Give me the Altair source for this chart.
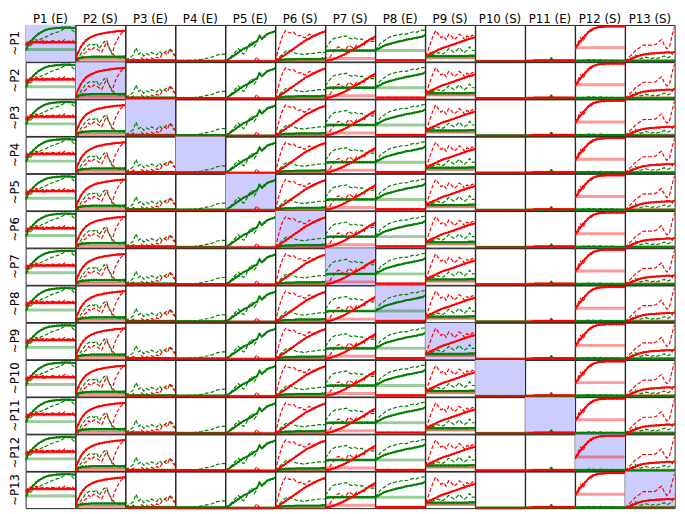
import altair as alt
import pandas as pd

# ---- labels ----
col_labels = ["P1 (E)", "P2 (S)", "P3 (E)", "P4 (E)", "P5 (E)", "P6 (S)", "P7 (S)",
              "P8 (E)", "P9 (S)", "P10 (S)", "P11 (E)", "P12 (S)", "P13 (S)"]
row_labels = ["~P1", "~P2", "~P3", "~P4", "~P5", "~P6", "~P7", "~P8", "~P9",
              "~P10", "~P11", "~P12", "~P13"]
steps = list(range(20))

# ---- per-column series (green solid, green dashed, red solid, red dashed) ----
gs = {
    "P1 (E)": [0.33,0.45,0.55,0.63,0.70,0.76,0.80,0.84,0.87,0.89,0.90,0.91,0.92,0.92,0.93,0.93,0.93,0.93,0.92,0.92],
    "P2 (S)": [0.05,0.08,0.10,0.11,0.12,0.12,0.13,0.13,0.13,0.13,0.13,0.13,0.13,0.13,0.13,0.13,0.13,0.13,0.13,0.14],
    "P3 (E)": [0.02,0.03,0.03,0.03,0.03,0.03,0.03,0.03,0.03,0.03,0.03,0.03,0.03,0.03,0.03,0.03,0.03,0.03,0.03,0.03],
    "P4 (E)": [0.02,0.02,0.02,0.02,0.02,0.02,0.02,0.02,0.02,0.02,0.02,0.02,0.02,0.02,0.02,0.02,0.02,0.02,0.02,0.02],
    "P5 (E)": [0.00,0.05,0.10,0.15,0.20,0.25,0.30,0.35,0.38,0.42,0.46,0.52,0.55,0.68,0.62,0.68,0.75,0.78,0.80,0.83],
    "P6 (S)": [0.00,0.02,0.04,0.05,0.06,0.06,0.06,0.06,0.07,0.07,0.07,0.07,0.07,0.07,0.07,0.07,0.07,0.07,0.08,0.08],
    "P7 (S)": [0.28,0.29,0.30,0.30,0.30,0.30,0.30,0.30,0.30,0.30,0.30,0.30,0.30,0.30,0.30,0.30,0.30,0.30,0.30,0.30],
    "P8 (E)": [0.30,0.34,0.38,0.42,0.45,0.47,0.49,0.51,0.53,0.55,0.56,0.58,0.60,0.61,0.62,0.64,0.65,0.67,0.68,0.72],
    "P9 (S)": [0.14,0.15,0.15,0.15,0.15,0.15,0.15,0.15,0.15,0.15,0.15,0.15,0.15,0.15,0.15,0.15,0.15,0.16,0.16,0.16],
    "P10 (S)": [0.01,0.01,0.01,0.01,0.01,0.01,0.01,0.01,0.01,0.01,0.01,0.01,0.01,0.01,0.01,0.01,0.01,0.01,0.01,0.01],
    "P11 (E)": [0.00,0.00,0.00,0.00,0.00,0.00,0.00,0.00,0.00,0.00,0.08,0.00,0.00,0.00,0.00,0.00,0.00,0.00,0.00,0.00],
    "P12 (S)": [0.02,0.02,0.02,0.02,0.02,0.02,0.02,0.02,0.02,0.02,0.02,0.02,0.02,0.02,0.02,0.02,0.02,0.02,0.02,0.02],
    "P13 (S)": [0.01,0.01,0.01,0.01,0.01,0.01,0.01,0.01,0.01,0.01,0.01,0.01,0.01,0.01,0.01,0.01,0.01,0.01,0.01,0.02],
}
gd = {
    "P1 (E)": [0.30,0.38,0.45,0.50,0.55,0.58,0.62,0.65,0.68,0.72,0.75,0.78,0.80,0.82,0.86,0.90,0.93,0.90,0.85,0.78],
    "P2 (S)": [0.05,0.10,0.20,0.30,0.40,0.45,0.48,0.45,0.50,0.35,0.45,0.55,0.50,0.35,0.25,0.15,0.12,0.10,0.10,0.10],
    "P3 (E)": [0.03,0.08,0.12,0.18,0.38,0.20,0.25,0.15,0.22,0.18,0.25,0.20,0.18,0.28,0.20,0.25,0.30,0.32,0.22,0.15],
    "P4 (E)": [0.01,0.02,0.02,0.02,0.03,0.03,0.03,0.03,0.04,0.05,0.06,0.08,0.09,0.10,0.12,0.15,0.18,0.19,0.20,0.20],
    "P5 (E)": [0.00,0.05,0.12,0.20,0.28,0.35,0.25,0.20,0.30,0.45,0.55,0.40,0.50,0.72,0.65,0.70,0.75,0.78,0.80,0.82],
    "P6 (S)": [0.00,0.08,0.15,0.22,0.28,0.30,0.28,0.25,0.22,0.20,0.20,0.18,0.20,0.22,0.22,0.23,0.24,0.25,0.25,0.25],
    "P7 (S)": [0.35,0.45,0.55,0.62,0.65,0.65,0.68,0.68,0.70,0.65,0.62,0.65,0.62,0.60,0.62,0.55,0.55,0.55,0.55,0.55],
    "P8 (E)": [0.30,0.40,0.50,0.55,0.60,0.65,0.68,0.70,0.72,0.73,0.75,0.76,0.75,0.78,0.80,0.82,0.80,0.85,0.85,0.86],
    "P9 (S)": [0.15,0.16,0.18,0.20,0.22,0.25,0.20,0.22,0.28,0.35,0.30,0.25,0.30,0.38,0.30,0.25,0.30,0.40,0.30,0.30],
    "P10 (S)": [0.01,0.01,0.01,0.01,0.01,0.01,0.01,0.01,0.01,0.01,0.01,0.01,0.01,0.01,0.01,0.01,0.01,0.01,0.01,0.01],
    "P11 (E)": [0.00,0.00,0.00,0.00,0.00,0.00,0.00,0.00,0.00,0.01,0.04,0.01,0.00,0.00,0.00,0.00,0.00,0.00,0.00,0.00],
    "P12 (S)": [0.02,0.03,0.02,0.04,0.03,0.05,0.04,0.05,0.03,0.04,0.05,0.03,0.04,0.03,0.04,0.03,0.03,0.02,0.02,0.02],
    "P13 (S)": [0.00,0.03,0.08,0.12,0.18,0.10,0.08,0.10,0.12,0.10,0.08,0.10,0.08,0.10,0.12,0.15,0.10,0.12,0.18,0.35],
}
rs = {
    "P1 (E)": [0.45,0.50,0.52,0.53,0.53,0.53,0.53,0.52,0.53,0.53,0.53,0.53,0.53,0.53,0.53,0.53,0.53,0.53,0.53,0.52],
    "P2 (S)": [0.08,0.25,0.40,0.50,0.58,0.63,0.67,0.70,0.73,0.75,0.76,0.78,0.79,0.80,0.81,0.82,0.83,0.83,0.84,0.84],
    "P3 (E)": [0.01,0.01,0.01,0.01,0.01,0.01,0.01,0.01,0.01,0.01,0.01,0.01,0.01,0.01,0.01,0.01,0.01,0.01,0.01,0.01],
    "P4 (E)": [0.00,0.00,0.00,0.00,0.00,0.00,0.00,0.00,0.00,0.00,0.00,0.00,0.00,0.00,0.00,0.00,0.00,0.00,0.00,0.00],
    "P5 (E)": [0.00,0.00,0.00,0.00,0.00,0.00,0.00,0.00,0.00,0.00,0.00,0.00,0.00,0.00,0.00,0.00,0.00,0.00,0.00,0.00],
    "P6 (S)": [0.00,0.05,0.10,0.15,0.20,0.25,0.30,0.35,0.40,0.45,0.50,0.55,0.60,0.63,0.67,0.70,0.74,0.77,0.80,0.82],
    "P7 (S)": [0.00,0.02,0.04,0.06,0.09,0.12,0.15,0.18,0.22,0.26,0.30,0.34,0.38,0.42,0.46,0.50,0.55,0.60,0.64,0.68],
    "P8 (E)": [0.03,0.03,0.03,0.03,0.03,0.03,0.03,0.03,0.03,0.03,0.03,0.03,0.03,0.03,0.03,0.03,0.03,0.03,0.03,0.03],
    "P9 (S)": [0.15,0.18,0.22,0.25,0.28,0.32,0.35,0.38,0.40,0.42,0.45,0.47,0.50,0.52,0.55,0.57,0.60,0.62,0.64,0.66],
    "P10 (S)": [0.00,0.00,0.00,0.00,0.00,0.00,0.00,0.00,0.00,0.00,0.00,0.00,0.00,0.00,0.00,0.00,0.00,0.00,0.00,0.00],
    "P11 (E)": [0.00,0.00,0.01,0.02,0.03,0.03,0.03,0.03,0.03,0.03,0.03,0.03,0.03,0.03,0.03,0.03,0.03,0.03,0.03,0.03],
    "P12 (S)": [0.35,0.45,0.55,0.65,0.72,0.80,0.86,0.90,0.92,0.94,0.95,0.95,0.96,0.96,0.96,0.96,0.96,0.96,0.96,0.96],
    "P13 (S)": [0.00,0.03,0.06,0.09,0.12,0.15,0.17,0.19,0.20,0.21,0.22,0.22,0.23,0.23,0.24,0.24,0.25,0.25,0.24,0.26],
}
rd = {
    "P1 (E)": [0.45,0.55,0.58,0.55,0.60,0.57,0.55,0.58,0.56,0.54,0.57,0.56,0.53,0.58,0.55,0.60,0.56,0.55,0.58,0.50],
    "P2 (S)": [0.05,0.02,0.08,0.20,0.25,0.35,0.30,0.38,0.35,0.30,0.25,0.40,0.55,0.35,0.20,0.45,0.60,0.72,0.80,0.85],
    "P3 (E)": [0.02,0.05,0.03,0.08,0.05,0.03,0.10,0.05,0.08,0.04,0.10,0.06,0.12,0.08,0.20,0.25,0.18,0.35,0.28,0.15],
    "P4 (E)": [0.00,0.00,0.00,0.00,0.00,0.00,0.00,0.00,0.00,0.00,0.00,0.00,0.00,0.00,0.00,0.00,0.00,0.00,0.00,0.00],
    "P5 (E)": [0.00,0.00,0.00,0.00,0.00,0.00,0.00,0.00,0.00,0.00,0.00,0.00,0.12,0.02,0.00,0.00,0.00,0.00,0.00,0.00],
    "P6 (S)": [0.00,0.30,0.55,0.75,0.85,0.80,0.78,0.80,0.72,0.70,0.72,0.65,0.68,0.75,0.70,0.72,0.75,0.78,0.80,0.80],
    "P7 (S)": [0.00,0.05,0.15,0.25,0.35,0.40,0.38,0.30,0.35,0.45,0.40,0.35,0.45,0.40,0.50,0.45,0.55,0.60,0.60,0.62],
    "P8 (E)": [0.03,0.03,0.04,0.03,0.03,0.04,0.03,0.03,0.04,0.03,0.03,0.04,0.03,0.03,0.04,0.03,0.03,0.04,0.03,0.03],
    "P9 (S)": [0.15,0.30,0.50,0.70,0.85,0.75,0.65,0.70,0.60,0.75,0.70,0.60,0.65,0.75,0.70,0.60,0.70,0.65,0.72,0.70],
    "P10 (S)": [0.00,0.00,0.00,0.00,0.00,0.00,0.00,0.00,0.00,0.00,0.00,0.00,0.00,0.00,0.00,0.00,0.00,0.00,0.00,0.00],
    "P11 (E)": [0.00,0.00,0.01,0.02,0.03,0.03,0.03,0.03,0.03,0.03,0.03,0.03,0.03,0.03,0.03,0.03,0.03,0.03,0.03,0.03],
    "P12 (S)": [0.35,0.50,0.65,0.55,0.70,0.80,0.82,0.88,0.93,0.95,0.94,0.96,0.97,0.97,0.96,0.97,0.97,0.97,0.97,0.97],
    "P13 (S)": [0.00,0.08,0.15,0.22,0.30,0.35,0.40,0.45,0.45,0.45,0.45,0.45,0.48,0.55,0.60,0.45,0.35,0.40,0.70,0.95],
}
# light baseline levels per column
green_base = [0.33, 0.10, 0.02, 0.01, 0.01, 0.03, 0.30, 0.30, 0.12, 0.01, 0.01, 0.02, 0.02]
red_base = [0.52, 0.04, 0.01, 0.00, 0.00, 0.01, 0.08, 0.02, 0.10, 0.00, 0.02, 0.38, 0.02]

# ---- long table ----
recs = []
for ri, r in enumerate(row_labels):
    for ci, c in enumerate(col_labels):
        for name, src in (("gs", gs), ("gd", gd), ("rs", rs), ("rd", rd)):
            for x, y in zip(steps, src[c]):
                recs.append({"r": r, "c": c, "s": name, "x": x, "y": y})
        recs.append({"r": r, "c": c, "s": "gb", "x": 0, "y": green_base[ci]})
        recs.append({"r": r, "c": c, "s": "rb", "x": 0, "y": red_base[ci]})
        if ri == ci:
            recs.append({"r": r, "c": c, "s": "bg", "x": 0, "y": 0})
df = pd.DataFrame(recs)

W, H = 50.6, 37.3
xs = alt.Scale(domain=[0, 19], nice=False, zero=False, padding=0)
ys = alt.Scale(domain=[0, 1], nice=False)
X = alt.X("x:Q", scale=xs, axis=None)
Y = alt.Y("y:Q", scale=ys, axis=None)

base = alt.Chart()

bg = base.mark_rect(color="#ccccff").encode(
    x=alt.value(0), x2=alt.value(W), y=alt.value(0), y2=alt.value(H)
).transform_filter(alt.datum.s == "bg")

gbl = base.mark_rule(color="green", opacity=0.4, strokeWidth=3).encode(
    y=Y).transform_filter(alt.datum.s == "gb")
rbl = base.mark_rule(color="red", opacity=0.4, strokeWidth=3).encode(
    y=Y).transform_filter(alt.datum.s == "rb")

gdl = base.mark_line(color="green", strokeWidth=1.2, strokeDash=[4, 2], clip=True).encode(
    x=X, y=Y).transform_filter(alt.datum.s == "gd")
rdl = base.mark_line(color="red", strokeWidth=1.2, strokeDash=[4, 2], clip=True).encode(
    x=X, y=Y).transform_filter(alt.datum.s == "rd")

gsl = base.mark_line(color="green", strokeWidth=1.8, clip=True,
                     point=alt.OverlayMarkDef(color="green", size=6, filled=True)).encode(
    x=X, y=Y).transform_filter(alt.datum.s == "gs")
rsl = base.mark_line(color="red", strokeWidth=1.8, clip=True,
                     point=alt.OverlayMarkDef(color="red", size=6, filled=True)).encode(
    x=X, y=Y).transform_filter(alt.datum.s == "rs")

cell = alt.layer(bg, gbl, rbl, gdl, rdl, gsl, rsl).properties(width=W, height=H)

chart = cell.facet(
    data=df,
    row=alt.Row("r:N", sort=row_labels, title=None,
                header=alt.Header(labelAngle=-90, labelOrient="left", labelFontSize=12,
                                  labelFont="DejaVu Sans", labelPadding=-1, labelColor="black")),
    column=alt.Column("c:N", sort=col_labels, title=None,
                      header=alt.Header(labelFontSize=12, labelFont="DejaVu Sans",
                                        labelPadding=-1, labelColor="black")),
    spacing={"row": 0, "column": 0},
    bounds="flush",
).properties(
    padding={"left": 0, "top": 0, "right": 0, "bottom": 0}
).configure_view(
    stroke="#222222", strokeWidth=1
).configure_facet(
    spacing=0
)

chart.save("out.html", embed_options={"renderer": "svg", "actions": False})
